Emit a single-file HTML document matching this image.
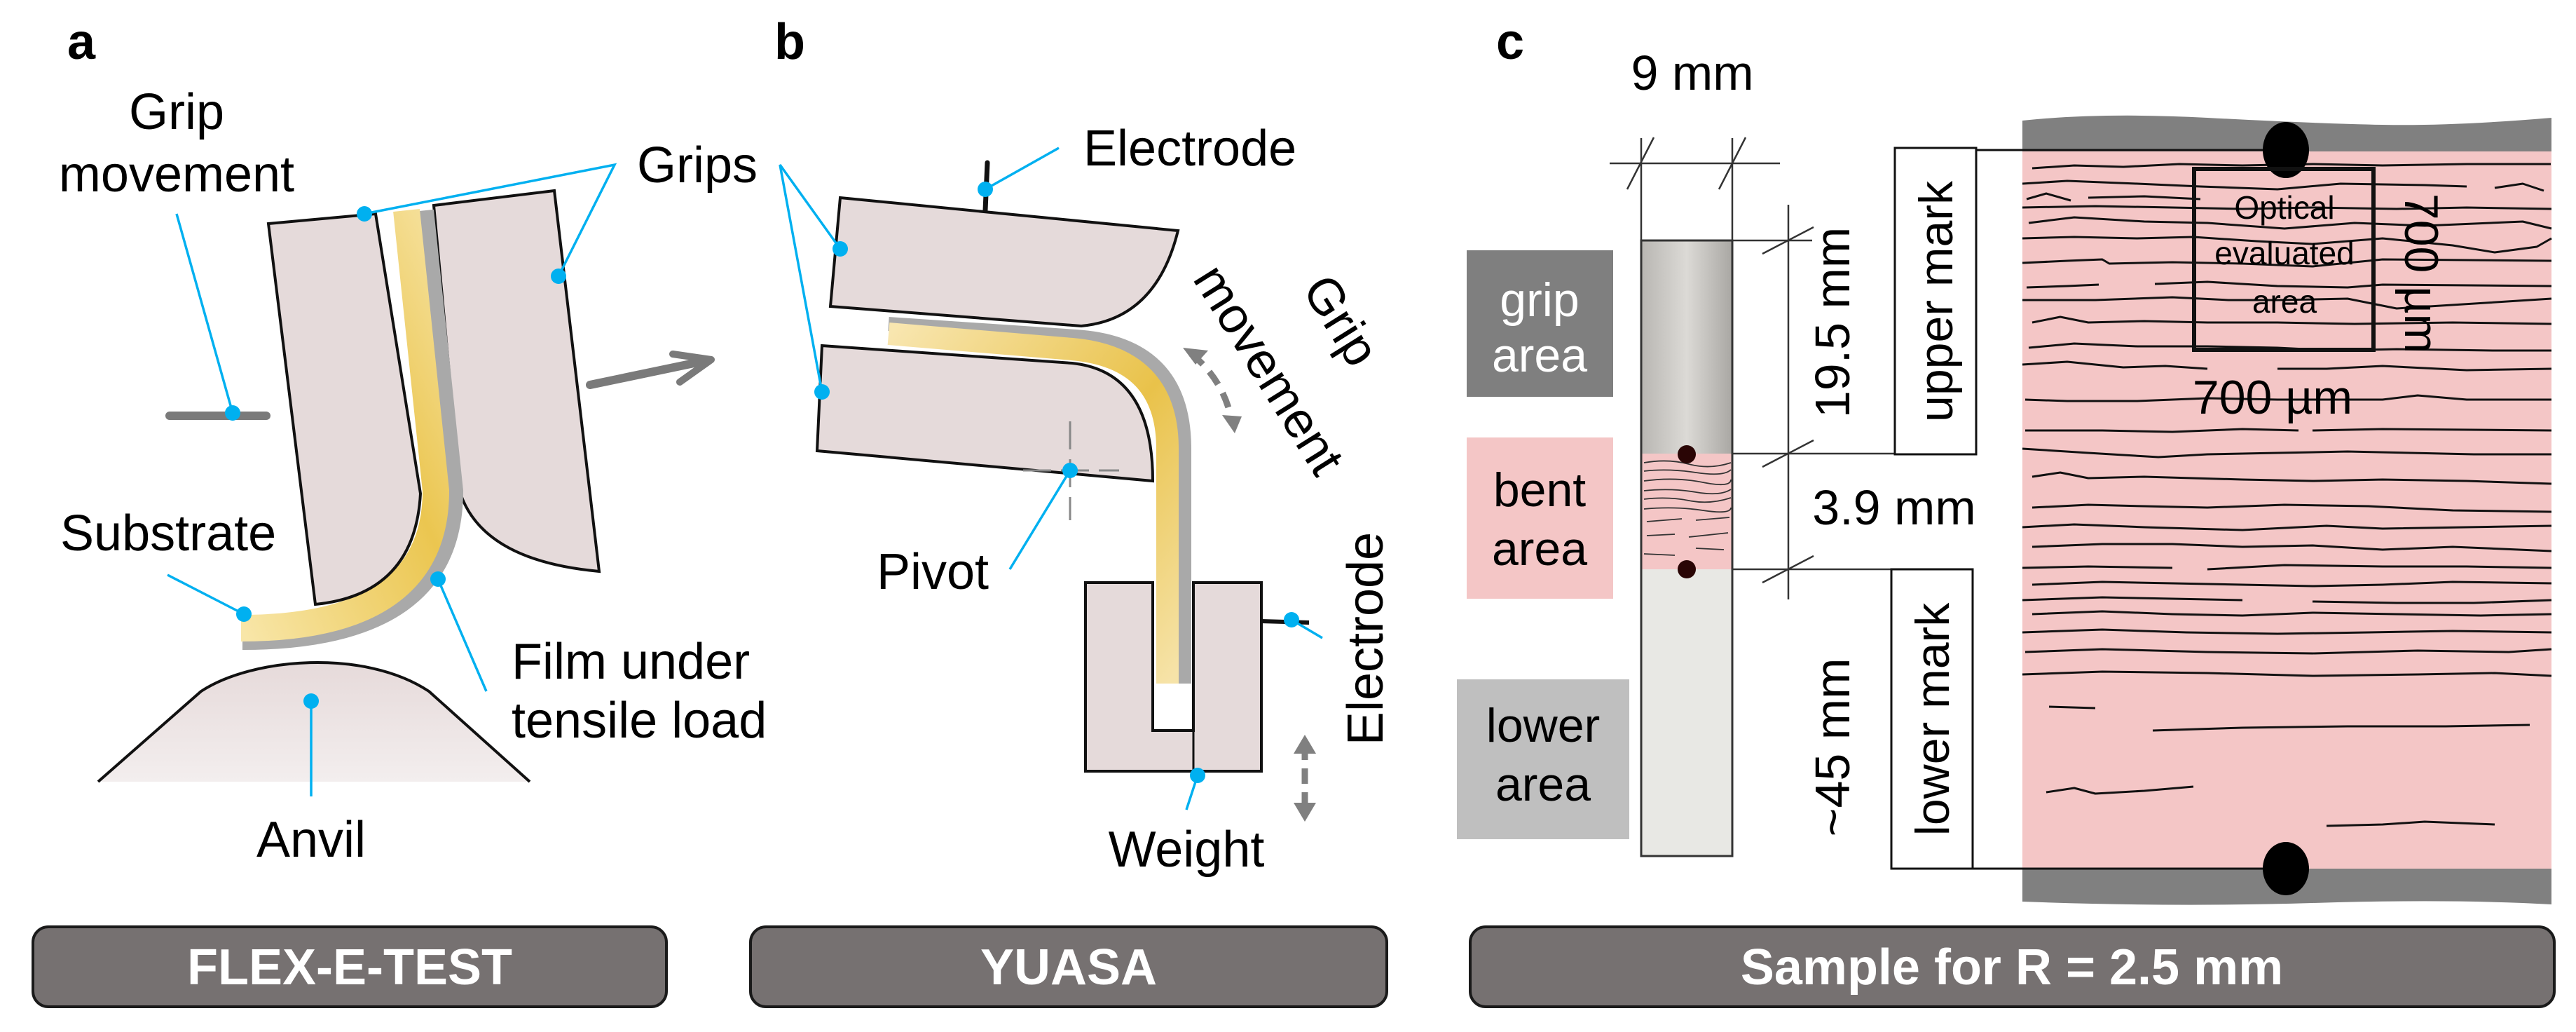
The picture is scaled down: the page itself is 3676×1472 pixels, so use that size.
<!DOCTYPE html>
<html><head><meta charset="utf-8"><style>
html,body{margin:0;padding:0;background:#fff;}
svg{display:block;}
text{font-family:"Liberation Sans",Arial,sans-serif;}
</style></head><body>
<svg width="3676" height="1472" viewBox="0 0 3676 1472" xmlns="http://www.w3.org/2000/svg">
<defs>
<linearGradient id="yelA" x1="0" y1="1" x2="1" y2="0"><stop offset="0" stop-color="#f8e6a8"/><stop offset="0.6" stop-color="#ebc650"/><stop offset="1" stop-color="#f6e2a0"/></linearGradient>
<linearGradient id="yelB" x1="0" y1="0" x2="1" y2="1"><stop offset="0" stop-color="#f8e6b0"/><stop offset="0.55" stop-color="#e9c24a"/><stop offset="1" stop-color="#f6e3a8"/></linearGradient>
<linearGradient id="anv" x1="0" y1="0" x2="0" y2="1"><stop offset="0" stop-color="#e6dada"/><stop offset="1" stop-color="#f3eeee"/></linearGradient>
<linearGradient id="gripS" x1="0" y1="0" x2="1" y2="0"><stop offset="0" stop-color="#b8b6b2"/><stop offset="0.5" stop-color="#dcdad6"/><stop offset="1" stop-color="#a9a7a3"/></linearGradient>
</defs>

<!-- ========== PANEL A ========== -->
<text x="96" y="84" font-size="72" font-weight="bold">a</text>
<text x="252" y="184" font-size="72" text-anchor="middle">Grip</text>
<text x="252" y="273" font-size="72" text-anchor="middle">movement</text>
<!-- right grip -->
<path d="M619,293 L791,272 L855,815 Q690,800 657,704 Z" fill="#e5dada" stroke="#111" stroke-width="4"/>
<!-- film -->
<path d="M608,300 L650,700 Q650,916 346,916" fill="none" stroke="#a9a9a9" stroke-width="22"/>
<path d="M608,300 L650,700 Q650,916 346,916" fill="none" stroke="#333" stroke-width="24" stroke-opacity="0"/>
<path d="M580,300 L622,700 Q622,896 344,896" fill="none" stroke="url(#yelA)" stroke-width="38"/>
<!-- left grip -->
<path d="M383,319 L536,305 L600,704 Q592,848 450,862 Z" fill="#e5dada" stroke="#111" stroke-width="4"/>
<!-- anvil -->
<path d="M140,1115 L287,986 C360,938 520,925 612,986 L756,1115 Z" fill="url(#anv)"/>
<path d="M140,1115 L287,986 C360,938 520,925 612,986 L756,1115" fill="none" stroke="#111" stroke-width="4"/>
<!-- arrow -->
<line x1="842" y1="549" x2="1000" y2="516" stroke="#7a7a7a" stroke-width="12" stroke-linecap="round"/>
<polyline points="960,505 1015,513 970,545" fill="none" stroke="#7a7a7a" stroke-width="10" stroke-linecap="round" stroke-linejoin="round"/>
<!-- grip movement bar -->
<line x1="242" y1="593" x2="380" y2="593" stroke="#7a7a7a" stroke-width="12" stroke-linecap="round"/>
<g stroke="#00b0f0" stroke-width="3.5" fill="none">
<line x1="252" y1="305" x2="332" y2="589"/>
<polyline points="520,305 877,235 797,394"/>
<line x1="239" y1="820" x2="348" y2="876"/>
<line x1="625" y1="826" x2="694" y2="986"/>
<line x1="444" y1="1000" x2="444" y2="1136"/>
</g>
<g fill="#00b0f0">
<circle cx="332" cy="589" r="11"/><circle cx="520" cy="305" r="11"/><circle cx="797" cy="394" r="11"/>
<circle cx="348" cy="876" r="11"/><circle cx="625" cy="826" r="11"/><circle cx="444" cy="1000" r="11"/>
</g>
<text x="909" y="260" font-size="72">Grips</text>
<text x="86" y="785" font-size="72">Substrate</text>
<text x="730" y="968" font-size="72">Film under</text>
<text x="730" y="1052" font-size="72">tensile load</text>
<text x="444" y="1222" font-size="72" text-anchor="middle">Anvil</text>
<rect x="47" y="1322" width="904" height="114" rx="22" fill="#767171" stroke="#1a1a1a" stroke-width="4"/>
<text x="499" y="1404" font-size="72" font-weight="bold" fill="#fff" text-anchor="middle">FLEX-E-TEST</text>

<!-- ========== PANEL B ========== -->
<text x="1105" y="84" font-size="72" font-weight="bold">b</text>
<!-- lower grip -->
<path d="M1173,493 L1530,518 Q1645,530 1645,686 L1166,643 Z" fill="#e5dada" stroke="#111" stroke-width="4"/>
<!-- film -->
<path d="M1268,462 L1535,480 Q1690,490 1690,640 L1690,975" fill="none" stroke="#a9a9a9" stroke-width="20"/>
<path d="M1268,476 L1530,498 Q1666,510 1666,640 L1666,975" fill="none" stroke="url(#yelB)" stroke-width="32"/>
<rect x="1648" y="975" width="51" height="67" fill="#fff"/>
<!-- upper grip -->
<path d="M1199,282 L1681,329 Q1650,455 1543,465 L1185,437 Z" fill="#e5dada" stroke="#111" stroke-width="4"/>
<!-- electrode top -->
<line x1="1409" y1="232" x2="1406" y2="300" stroke="#111" stroke-width="7" stroke-linecap="round"/>
<!-- weight -->
<path d="M1549,831 H1645 V1042 H1703 V831 H1800 V1100 H1549 Z" fill="#e5dada" stroke="#111" stroke-width="4"/>
<line x1="1703" y1="1042" x2="1703" y2="1100" stroke="#111" stroke-width="3"/>
<line x1="1800" y1="886" x2="1868" y2="888" stroke="#111" stroke-width="6"/>
<!-- pivot crosshair -->
<g stroke="#888" stroke-width="3" stroke-dasharray="40,14">
<line x1="1527" y1="601" x2="1527" y2="742"/>
<line x1="1460" y1="671" x2="1597" y2="671"/>
</g>
<!-- curved dashed double arrow -->
<path d="M1700,505 Q1745,540 1758,600" fill="none" stroke="#808080" stroke-width="9" stroke-dasharray="22,14"/>
<polygon points="1688,496 1724,500 1706,520" fill="#808080"/>
<polygon points="1762,618 1744,592 1772,594" fill="#808080"/>
<!-- vertical dashed double arrow -->
<line x1="1862" y1="1062" x2="1862" y2="1160" stroke="#808080" stroke-width="9" stroke-dasharray="22,12"/>
<polygon points="1862,1048 1846,1075 1878,1075" fill="#808080"/>
<polygon points="1862,1172 1846,1145 1878,1145" fill="#808080"/>
<g stroke="#00b0f0" stroke-width="3.5" fill="none">
<polyline points="1199,355 1113,235 1173,559"/>
<line x1="1406" y1="270" x2="1511" y2="211"/>
<line x1="1527" y1="671" x2="1441" y2="812"/>
<line x1="1843" y1="884" x2="1887" y2="910"/>
<line x1="1709" y1="1106" x2="1693" y2="1155"/>
</g>
<g fill="#00b0f0">
<circle cx="1199" cy="355" r="11"/><circle cx="1173" cy="559" r="11"/><circle cx="1406" cy="270" r="11"/>
<circle cx="1527" cy="671" r="11"/><circle cx="1843" cy="884" r="11"/><circle cx="1709" cy="1106" r="11"/>
</g>
<text x="1546" y="236" font-size="72">Electrode</text>
<text x="1331" y="840" font-size="72" text-anchor="middle">Pivot</text>
<text x="1693" y="1236" font-size="72" text-anchor="middle">Weight</text>
<text transform="translate(1948,911) rotate(-90)" font-size="72" text-anchor="middle" dy="25">Electrode</text>
<text transform="translate(1893,470) rotate(58)" font-size="72" text-anchor="middle">Grip</text>
<text transform="translate(1790,540) rotate(58)" font-size="72" text-anchor="middle">movement</text>
<rect x="1071" y="1322" width="908" height="114" rx="22" fill="#767171" stroke="#1a1a1a" stroke-width="4"/>
<text x="1525" y="1404" font-size="72" font-weight="bold" fill="#fff" text-anchor="middle">YUASA</text>

<!-- ========== PANEL C ========== -->
<text x="2135" y="84" font-size="72" font-weight="bold">c</text>
<text x="2415" y="128" font-size="70" text-anchor="middle">9 mm</text>
<g stroke="#333" stroke-width="2.5" fill="none">
<line x1="2297" y1="233" x2="2540" y2="233"/>
<line x1="2342" y1="197" x2="2342" y2="343"/>
<line x1="2472" y1="197" x2="2472" y2="343"/>
<line x1="2322" y1="270" x2="2360" y2="196"/>
<line x1="2453" y1="270" x2="2491" y2="196"/>
<line x1="2472" y1="343" x2="2586" y2="343"/>
<line x1="2472" y1="647" x2="2704" y2="647"/>
<line x1="2472" y1="812" x2="2699" y2="812"/>
<line x1="2552" y1="292" x2="2552" y2="855"/>
<line x1="2515" y1="362" x2="2588" y2="324"/>
<line x1="2515" y1="666" x2="2588" y2="628"/>
<line x1="2515" y1="831" x2="2588" y2="793"/>
</g>
<rect x="2342" y="343" width="130" height="304" fill="url(#gripS)"/>
<rect x="2342" y="647" width="130" height="165" fill="#f4c6c6"/>
<rect x="2342" y="812" width="130" height="409" fill="#e8e8e4"/>
<g stroke="#333" stroke-width="1.8" fill="none">
<path d="M2346,660 Q2380,654 2410,662 T2470,660"/>
<path d="M2346,672 Q2380,668 2420,674 T2470,670"/>
<path d="M2346,686 Q2390,680 2430,688 T2470,684"/>
<path d="M2346,700 Q2385,696 2420,702 T2470,698"/>
<path d="M2346,712 Q2380,708 2410,714 T2470,710"/>
<path d="M2346,726 Q2390,722 2430,728 T2470,724"/>
<path d="M2350,744 L2400,740 M2420,742 L2468,738"/>
<path d="M2350,764 L2390,762 M2410,766 L2466,760"/>
<path d="M2346,790 L2390,792 M2420,782 L2460,784"/>
</g>
<rect x="2342" y="343" width="130" height="878" fill="none" stroke="#333" stroke-width="3"/>
<circle cx="2407" cy="648" r="13" fill="#2a0505"/>
<circle cx="2407" cy="812" r="13" fill="#2a0505"/>
<text transform="translate(2614,460) rotate(-90)" font-size="70" text-anchor="middle" dy="25">19.5 mm</text>
<text x="2703" y="748" font-size="70" text-anchor="middle">3.9 mm</text>
<text transform="translate(2614,1066) rotate(-90)" font-size="70" text-anchor="middle" dy="25">~45 mm</text>
<rect x="2093" y="357" width="209" height="209" fill="#7f7f7f"/>
<text x="2197" y="451" font-size="68" fill="#fff" text-anchor="middle">grip</text>
<text x="2197" y="530" font-size="68" fill="#fff" text-anchor="middle">area</text>
<rect x="2093" y="624" width="209" height="230" fill="#f4c6c6"/>
<text x="2197" y="722" font-size="68" text-anchor="middle">bent</text>
<text x="2197" y="806" font-size="68" text-anchor="middle">area</text>
<rect x="2079" y="969" width="246" height="228" fill="#bfbfbf"/>
<text x="2202" y="1058" font-size="68" text-anchor="middle">lower</text>
<text x="2202" y="1142" font-size="68" text-anchor="middle">area</text>
<rect x="2704" y="211" width="116" height="437" fill="#fff" stroke="#111" stroke-width="3"/>
<text transform="translate(2762,430) rotate(-90)" font-size="68" text-anchor="middle" dy="24">upper mark</text>
<rect x="2699" y="812" width="116" height="427" fill="#fff" stroke="#111" stroke-width="3"/>
<text transform="translate(2757,1026) rotate(-90)" font-size="68" text-anchor="middle" dy="24">lower mark</text>
<!-- big sample -->
<path d="M2886,172 Q3000,160 3150,168 T3400,178 T3641,168 L3641,216 L2886,216 Z" fill="#808080"/>
<rect x="2886" y="216" width="755" height="1023" fill="#f4c6c6"/>
<path d="M2886,1239 L3641,1239 L3641,1290 Q3500,1282 3300,1288 T2886,1286 Z" fill="#808080"/>
<g stroke="#111" stroke-width="3" fill="none" stroke-linejoin="round">
<path d="M2900,240 L2960,236 L3030,238 L3110,234 L3200,236 L3300,234 L3400,236 L3520,234 L3640,234"/>
<path d="M2886,262 L2950,258 L3050,262 L3140,266 L3250,270 L3340,262 L3460,264 L3520,266"/>
<path d="M3560,268 L3600,262 L3630,272 M2892,284 L2920,276 L2955,286 M2980,282 L3060,280 L3140,284"/>
<path d="M2886,296 L2990,294 L3100,296 L3200,298 L3300,296 L3420,298 L3520,296 L3641,298"/>
<path d="M2895,318 L2960,310 L3060,316 L3150,318 L3260,326 L3360,318 L3460,322 L3600,316 L3641,326"/>
<path d="M2886,340 L2960,338 L3050,340 L3130,338 L3220,344 L3300,348 L3400,340 L3500,350 L3560,360 L3620,352 L3641,340"/>
<path d="M2886,375 L2950,372 L3000,370 L3010,376 L3100,374 L3200,376 L3300,380 L3400,370 L3641,372"/>
<path d="M2892,410 L2950,408 L2995,406 M3075,405 L3150,402 L3250,408 L3350,410 L3400,406 L3641,408"/>
<path d="M2886,428 L2990,428 L3100,424 L3180,428 L3250,428 L3350,426 L3420,440 L3641,426"/>
<path d="M2900,460 L2940,452 L2980,460 L3060,458 L3150,460 L3250,460 L3360,462 L3500,460 L3641,462"/>
<path d="M2895,496 L2960,490 L3050,494 L3150,494 L3250,496 L3330,500 L3420,498 L3560,500 L3641,500"/>
<path d="M2886,520 L2950,516 L3030,524 L3090,522 L3150,526 M3250,526 L3320,526 L3400,522 L3520,528 L3641,526"/>
<path d="M2890,570 L2950,572 L3050,572 L3150,568 L3250,570 L3400,570 L3450,564 L3520,570 L3641,570"/>
<path d="M2890,614 L3000,614 L3100,616 L3200,612 L3280,614 M3300,614 L3400,612 L3641,614"/>
<path d="M2886,640 L2980,646 L3080,652 L3150,648 L3250,646 L3350,644 L3440,646 L3530,648 L3641,648"/>
<path d="M2900,680 L2940,674 L2980,682 L3060,680 L3200,684 L3300,686 L3400,684 L3520,686 L3641,690"/>
<path d="M2900,724 L2980,720 L3060,722 L3150,724 L3260,720 L3380,722 L3500,728 L3641,730"/>
<path d="M2886,752 L2960,748 L3060,752 L3200,756 L3320,750 L3400,754 L3641,750"/>
<path d="M2900,780 L3000,776 L3100,776 L3200,780 L3300,778 L3400,784 L3500,780 L3641,786"/>
<path d="M2886,810 L2980,808 L3100,810 M3150,812 L3260,806 L3400,808 L3520,808 L3641,810"/>
<path d="M2900,834 L3000,830 L3100,832 L3200,834 L3300,836 L3400,834 L3500,830 L3641,832"/>
<path d="M2886,856 L3000,852 L3100,854 L3200,856 M3300,858 L3420,860 L3530,860 L3641,856"/>
<path d="M2900,876 L3000,872 L3100,876 L3200,878 L3300,874 L3420,876 L3540,878 L3641,876"/>
<path d="M2886,902 L3000,898 L3120,902 L3250,904 L3380,902 L3500,900 L3641,902"/>
<path d="M2890,930 L3000,926 L3150,930 L3300,932 L3450,928 L3580,930 L3641,926"/>
<path d="M2886,962 L3000,958 L3150,960 L3300,964 L3450,962 L3560,960 L3641,964"/>
<path d="M2924,1008 L2990,1010"/>
<path d="M3072,1042 L3200,1038 L3350,1036 L3490,1036 L3610,1034"/>
<path d="M2920,1130 L2960,1124 L2990,1132 L3060,1128 L3130,1122"/>
<path d="M3320,1178 L3400,1176 L3460,1172 L3560,1176"/>
</g>
<line x1="2820" y1="214" x2="3260" y2="214" stroke="#111" stroke-width="3"/>
<line x1="2815" y1="1239" x2="3260" y2="1239" stroke="#111" stroke-width="3"/>
<ellipse cx="3262" cy="214" rx="33" ry="40" fill="#000"/>
<ellipse cx="3262" cy="1239" rx="33" ry="38" fill="#000"/>
<rect x="3131" y="241" width="256" height="258" fill="none" stroke="#111" stroke-width="6"/>
<g font-family="'Liberation Sans Narrow','Liberation Sans',sans-serif" font-size="46" text-anchor="middle">
<text x="3260" y="312">Optical</text>
<text x="3260" y="377">evaluated</text>
<text x="3260" y="446">area</text>
</g>
<text x="3243" y="590" font-size="68" text-anchor="middle" font-family="'Liberation Sans Narrow','Liberation Sans',sans-serif">700 µm</text>
<text transform="translate(3432,390) rotate(90)" font-size="68" text-anchor="middle" font-family="'Liberation Sans Narrow','Liberation Sans',sans-serif">700 µm</text>
<rect x="2098" y="1322" width="1547" height="114" rx="22" fill="#767171" stroke="#1a1a1a" stroke-width="4"/>
<text x="2871" y="1404" font-size="72" font-weight="bold" fill="#fff" text-anchor="middle">Sample for R = 2.5 mm</text>
</svg>
</body></html>
